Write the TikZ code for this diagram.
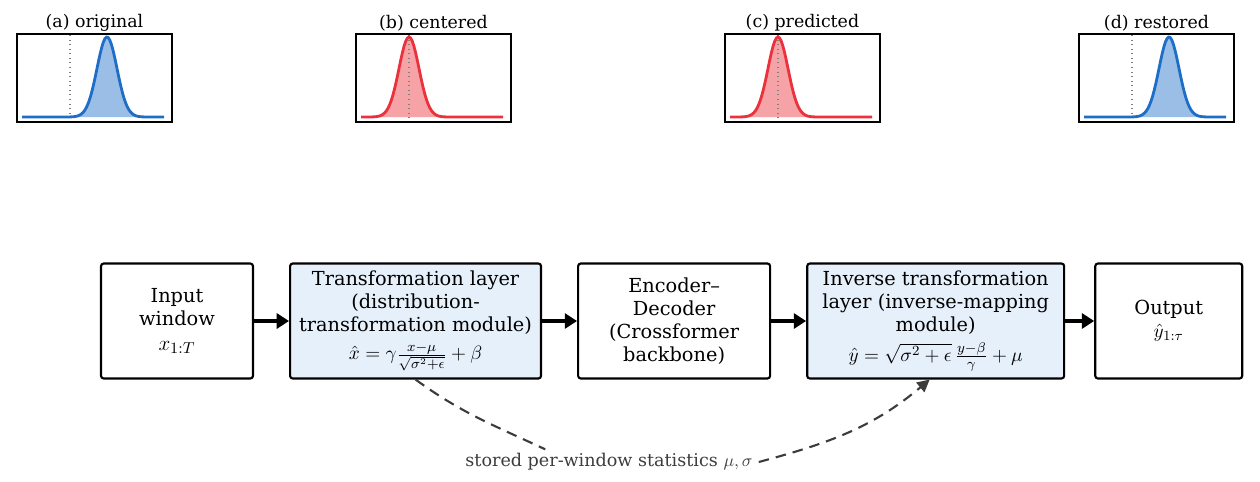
\documentclass[tikz,border=0pt]{standalone}
\usepackage{amsmath}
\usepackage{fontspec}
\setmainfont{DejaVu Serif}
\usetikzlibrary{positioning,arrows.meta}

\definecolor{gaussblue}{RGB}{30,110,200}
\definecolor{gaussred}{RGB}{235,50,60}
\definecolor{layerfill}{RGB}{230,240,251}
\definecolor{statgray}{RGB}{60,60,60}

\begin{document}
\begin{tikzpicture}[x=0.02cm,y=-0.02cm,
  stage/.style={draw=black,line width=1.2pt,rounded corners=1.5pt,minimum height=2.3cm,align=center,inner sep=2pt,font=\fontsize{11}{13}\selectfont},
  layer/.style={stage,fill=layerfill},
  flow/.style={-{Triangle[length=7pt,width=8.5pt]},line width=1.8pt},
  statline/.style={statgray,line width=1.2pt,dash pattern=on 6pt off 4pt},
  panel/.style={draw=black,line width=1.1pt,minimum width=3.1cm,minimum height=1.76cm,anchor=north west},
  ptitle/.style={font=\fontsize{9.9}{11}\selectfont,inner sep=1pt}]
\useasboundingbox (0,0) rectangle (1260,481);

% distribution panels
\foreach \px/\pk/\col/\ttl in {16/91/gaussblue/{(a) original},355/54/gaussred/{(b) centered},724/54/gaussred/{(c) predicted},1078/91/gaussblue/{(d) restored}}{
  \fill[\col!45] plot[domain=\px+6:\px+148,samples=90] (\x,{117-80*exp(-((\x-\px-\pk)^2)/200)}) -- cycle;
  \draw[gray,dotted,line width=0.6pt] (\px+54,35) -- (\px+54,118);
  \draw[\col,line width=1.6pt] plot[domain=\px+6:\px+148,samples=90] (\x,{117-80*exp(-((\x-\px-\pk)^2)/200)});
  \node[panel] (box\px) at (\px,33) {};
  \node[ptitle,above=0pt of box\px] (title\px) {\ttl};
}

% pipeline
\node[stage,minimum width=3.04cm] (input) at (177,321) {Input\\window\\[1pt]{\fontsize{12.5}{14}\selectfont$x_{1:T}$}};
\node[layer,minimum width=5.02cm,right=0.70cm of input] (trans) {Transformation layer\\(distribution-\\transformation module)\\[3pt]$\hat{x}=\gamma\frac{x-\mu}{\sqrt{\sigma^2+\epsilon}}+\beta$};
\node[stage,minimum width=3.84cm,right=0.70cm of trans] (enc) {Encoder–\\Decoder\\(Crossformer\\backbone)};
\node[layer,minimum width=5.14cm,right=0.70cm of enc] (inv) {Inverse transformation\\layer (inverse-mapping\\module)\\[4pt]$\hat{y}=\sqrt{\sigma^2+\epsilon}\,\frac{y-\beta}{\gamma}+\mu$};
\node[stage,minimum width=2.94cm,right=0.58cm of inv] (out) {Output\\$\hat{y}_{1:\tau}$};

\draw[flow] (input) -- (trans);
\draw[flow] (trans) -- (enc);
\draw[flow] (enc) -- (inv);
\draw[flow] (inv) -- (out);

% statistics side path
\node[text=statgray,font=\fontsize{10}{12}\selectfont] (stats) at (609,462) {stored per-window statistics $\mu,\sigma$};
\draw[statline] (trans.south) to[out=-36,in=155] ([xshift=1.72cm,yshift=-0.04cm]stats.north west);
\draw[statline,-{Triangle[length=7pt,width=7pt]}] (stats.east) to[out=15,in=-140] ([xshift=-0.12cm]inv.south);
\end{tikzpicture}
\end{document}
